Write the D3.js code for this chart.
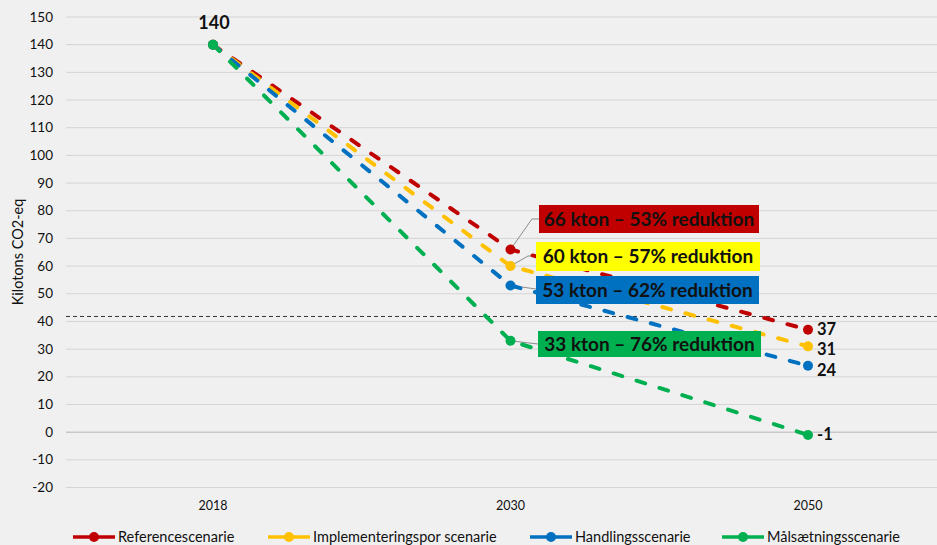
<!DOCTYPE html>
<html>
<head>
<meta charset="utf-8">
<script src="https://cdn.jsdelivr.net/npm/d3@7"></script>
<style>
  body { margin: 0; background: #f0f0f0; }
  svg { display: block; font-family: Lato, "Open Sans", sans-serif; }
</style>
</head>
<body>
<svg id="chart" width="937" height="545"></svg>
<script>
"use strict"

let years = ["2018", "2030", "2050"]
let names = ["Referencescenarie", "Implementeringspor scenarie", "Handlingsscenarie", "Målsætningsscenarie"]
let colors = ["#c00000", "#ffc000", "#0070c0", "#00b050"]
let boxColors = ["#c00000", "#ffff00", "#0070c0", "#00b050"]
let reference = [140, 66, 37]
let implement = [140, 60, 31]
let handling = [140, 53, 24]
let goal = [140, 33, -1]
let boxTexts = ["66 kton – 53% reduktion", "60 kton – 57% reduktion", "53 kton – 62% reduktion", "33 kton – 76% reduktion"]
let targetLine = 41.8
let yTicks = d3.range(-20, 151, 10)

let series = [reference, implement, handling, goal]

let svg = d3.select("#chart")

let x = d3.scalePoint().domain(years).range([213, 808])
let y = d3.scaleLinear().domain([-20, 150]).range([487.5, 17])

// gridlines
svg.append("g").selectAll("line")
    .data(yTicks)
    .join("line")
    .attr("x1", 66).attr("x2", 937)
    .attr("y1", d => y(d)).attr("y2", d => y(d))
    .attr("stroke", d => d == 0 ? "#c8c8c8" : "#d4d4d4")
    .attr("stroke-width", d => d == 0 ? 1.5 : 1)

// y labels
svg.append("g").selectAll("text")
    .data(yTicks)
    .join("text")
    .attr("x", 53).attr("y", d => y(d) + 4.5)
    .attr("text-anchor", "end")
    .attr("font-size", 13.5)
    .attr("fill", "#111")
    .text(d => d)

svg.append("text")
    .attr("transform", "translate(23,252) rotate(-90)")
    .attr("text-anchor", "middle")
    .attr("font-size", 14.5)
    .attr("fill", "#111")
    .text("Kilotons CO2-eq")

// x labels
svg.append("g").selectAll("text")
    .data(years)
    .join("text")
    .attr("x", d => x(d)).attr("y", 510)
    .attr("text-anchor", "middle")
    .attr("font-size", 12.5)
    .attr("fill", "#111")
    .text(d => d)

// target line
svg.append("line")
    .attr("x1", 66).attr("x2", 937)
    .attr("y1", y(targetLine)).attr("y2", y(targetLine))
    .attr("stroke", "#333").attr("stroke-width", 1)
    .attr("stroke-dasharray", "4,3")

// label boxes (layout)
let boxes = [
    { x: 539, y: 205, w: 220, h: 28, tx: [532, 219] },
    { x: 536, y: 242, w: 224, h: 29, tx: [528, 256] },
    { x: 536, y: 276, w: 223, h: 28, tx: [536, 289] },
    { x: 538, y: 331, w: 223, h: 26, tx: [538, 344] }
]

// leader lines
series.forEach(function(s, i) {
    let b = boxes[i]
    svg.append("polyline")
        .attr("points", [[x(years[1]), y(s[1])], b.tx, [b.x, b.tx[1]]].map(p => p.join(",")).join(" "))
        .attr("fill", "none")
        .attr("stroke", "#8c8c8c")
        .attr("stroke-width", 1)
})

let line = d3.line()
    .x((d, i) => x(years[i]))
    .y(d => y(d))

series.forEach(function(s, i) {
    svg.append("path")
        .datum(s)
        .attr("d", line)
        .attr("fill", "none")
        .attr("stroke", colors[i])
        .attr("stroke-width", 4)
        .attr("stroke-linecap", "round")
        .attr("stroke-dasharray", "9,15")
})

series.forEach(function(s, i) {
    svg.append("g").selectAll("circle")
        .data(s)
        .join("circle")
        .attr("cx", (d, j) => x(years[j]))
        .attr("cy", d => y(d))
        .attr("r", 5)
        .attr("fill", colors[i])
})

// boxes
series.forEach(function(s, i) {
    let b = boxes[i]
    svg.append("rect")
        .attr("x", b.x).attr("y", b.y)
        .attr("width", b.w).attr("height", b.h)
        .attr("fill", boxColors[i])
    svg.append("text")
        .attr("x", b.x + b.w / 2).attr("y", b.y + b.h / 2 + 6.5)
        .attr("text-anchor", "middle")
        .attr("font-size", 19)
        .attr("font-weight", "bold")
        .attr("fill", "#111")
        .text(boxTexts[i])
})

// end labels
let endOffsets = [5.5, 9, 10.5, 5.5]
series.forEach(function(s, i) {
    svg.append("text")
        .attr("x", x(years[2]) + 9)
        .attr("y", y(s[2]) + endOffsets[i])
        .attr("font-size", 16.5)
        .attr("font-weight", "bold")
        .attr("fill", "#111")
        .text(s[2])
})

svg.append("text")
    .attr("x", x(years[0]) + 1).attr("y", 29)
    .attr("text-anchor", "middle")
    .attr("font-size", 18)
    .attr("font-weight", "bold")
    .attr("fill", "#111")
    .text(reference[0])

// legend
let legendX = [73, 268, 530, 722]
let legend = svg.append("g").selectAll("g")
    .data(names)
    .join("g")
    .attr("transform", (d, i) => "translate(" + legendX[i] + ",537)")

legend.append("line")
    .attr("x1", 0).attr("x2", 42)
    .attr("stroke", (d, i) => colors[i])
    .attr("stroke-width", 3.5)
legend.append("circle")
    .attr("cx", 21).attr("r", 5)
    .attr("fill", (d, i) => colors[i])
legend.append("text")
    .attr("x", 45).attr("y", 5)
    .attr("font-size", 14.5)
    .attr("fill", "#111")
    .text(d => d)
</script>
</body>
</html>
